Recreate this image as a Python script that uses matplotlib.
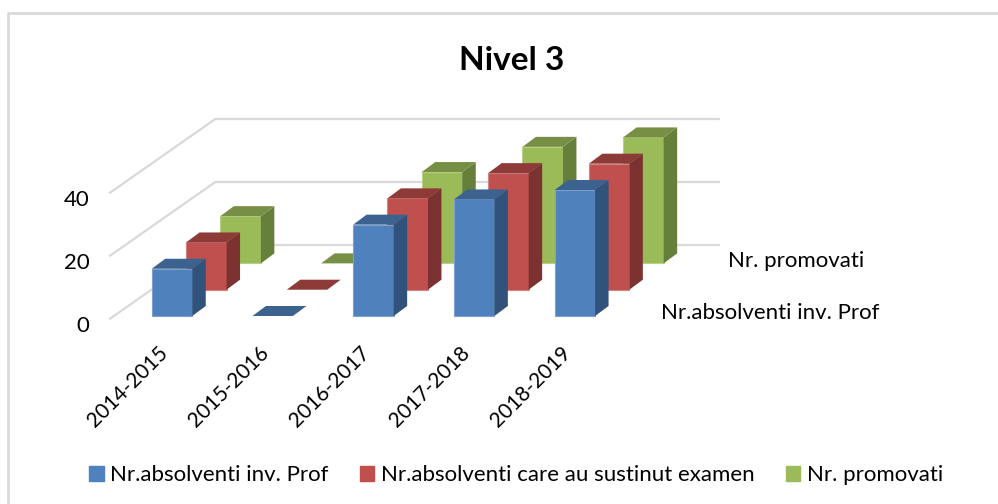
import matplotlib
matplotlib.use('Agg')
import matplotlib.pyplot as plt

plt.rcParams['font.family'] = ['Lato', 'DejaVu Sans']

# Data
years = ['2014-2015', '2015-2016', '2016-2017', '2017-2018', '2018-2019']
absolventi = [15, 0, 29, 37, 40]
examen = [15, 0, 29, 37, 40]
promovati = [15, 0, 29, 37, 40]
yticks = [0, 20, 40]
series_names = ['Nr.absolventi inv. Prof', 'Nr.absolventi care au sustinut examen', 'Nr. promovati']

# front, top, side colours of the 3D columns
front_colors = ['#4F81BD', '#C0504D', '#9BBB59']
top_colors = ['#3C6390', '#8E3A38', '#778F45']
side_colors = ['#31527B', '#7C3230', '#66803C']
edge_colors = ['#7DA0CC', '#D08583', '#B7D085']

# scale of the axes: pixels per category and per unit
px_x = 100.7
px_y = 3.15
bar_w = 40.5 / px_x
# box depth and step between the series, in data units
box_dx = 13.5 / px_x
box_dy = 10.0 / px_y
step_dx = 34.3 / px_x
step_dy = 26.3 / px_y

fig = plt.figure(figsize=(9.98, 5.04), dpi=100)
ax = fig.add_axes([0, 0, 1, 1])
ax.set_xlim(-172 / px_x, (998 - 172) / px_x)
ax.set_ylim(-(504 - 316) / px_y, 316 / px_y)
ax.axis('off')

# chart border, only the top and left edges are in the picture
ax.plot([0.0085, 0.0085, 1], [0, 0.975, 0.975], transform=ax.transAxes, color='#D9D9D9', lw=2)

# gridlines on the floor side and the back wall
wall_x = [-0.615, 0.43, 5.43]
for v in yticks:
    ax.plot(wall_x, [v - 8 / px_y / 3, v + 71 / px_y, v + 71 / px_y], color='#D9D9D9', lw=1.6, zorder=1)

# back series first so the front ones cover them
all_values = [absolventi, examen, promovati]
z = 2
for k in [2, 1, 0]:
    ox = k * step_dx
    oy = k * step_dy
    for i, v in enumerate(all_values[k]):
        x0 = i - bar_w / 2 + ox
        x1 = i + bar_w / 2 + ox
        y0 = oy
        y1 = oy + v
        if v > 0:
            ax.bar(x0 + bar_w / 2, v, bar_w, bottom=y0, color=front_colors[k],
                   edgecolor=edge_colors[k], linewidth=0.8, zorder=z)
            ax.fill([x1, x1 + box_dx, x1 + box_dx, x1],
                    [y0, y0 + box_dy, y1 + box_dy, y1],
                    color=side_colors[k], lw=0, zorder=z)
        ax.fill([x0, x1, x1 + box_dx, x0 + box_dx],
                [y1, y1, y1 + box_dy, y1 + box_dy],
                color=top_colors[k], lw=0, zorder=z)
    z += 1

# value labels, left of the floor
for v in yticks:
    ax.text(-0.82, v - 10 / px_y, str(v), fontsize=16, ha='right', va='center', color='black')

# category labels
for i, lab in enumerate(years):
    ax.text(i - 0.14, -8.4, lab, fontsize=15, rotation=45, rotation_mode='anchor',
            ha='right', va='top', color='black')

# series names on the depth axis
ax.text(5.52, (316 - 261) / px_y, series_names[2], fontsize=16, ha='left', va='center')
ax.text(4.855, (316 - 313) / px_y, series_names[0], fontsize=16, ha='left', va='center')

# title
ax.text(3.37, (316 - 60) / px_y, 'Nivel 3', fontsize=24, fontweight='bold', ha='center', va='center')

# legend
handles = [plt.Rectangle((0, 0), 1, 1, color=c) for c in front_colors]
ax.legend(handles, series_names, loc='center', bbox_to_anchor=(0.517, 0.057), ncol=3, frameon=False,
          fontsize=16, handlelength=0.65, handleheight=0.65, handletextpad=0.3, columnspacing=1.4)

fig.savefig('out.png', dpi=100)
